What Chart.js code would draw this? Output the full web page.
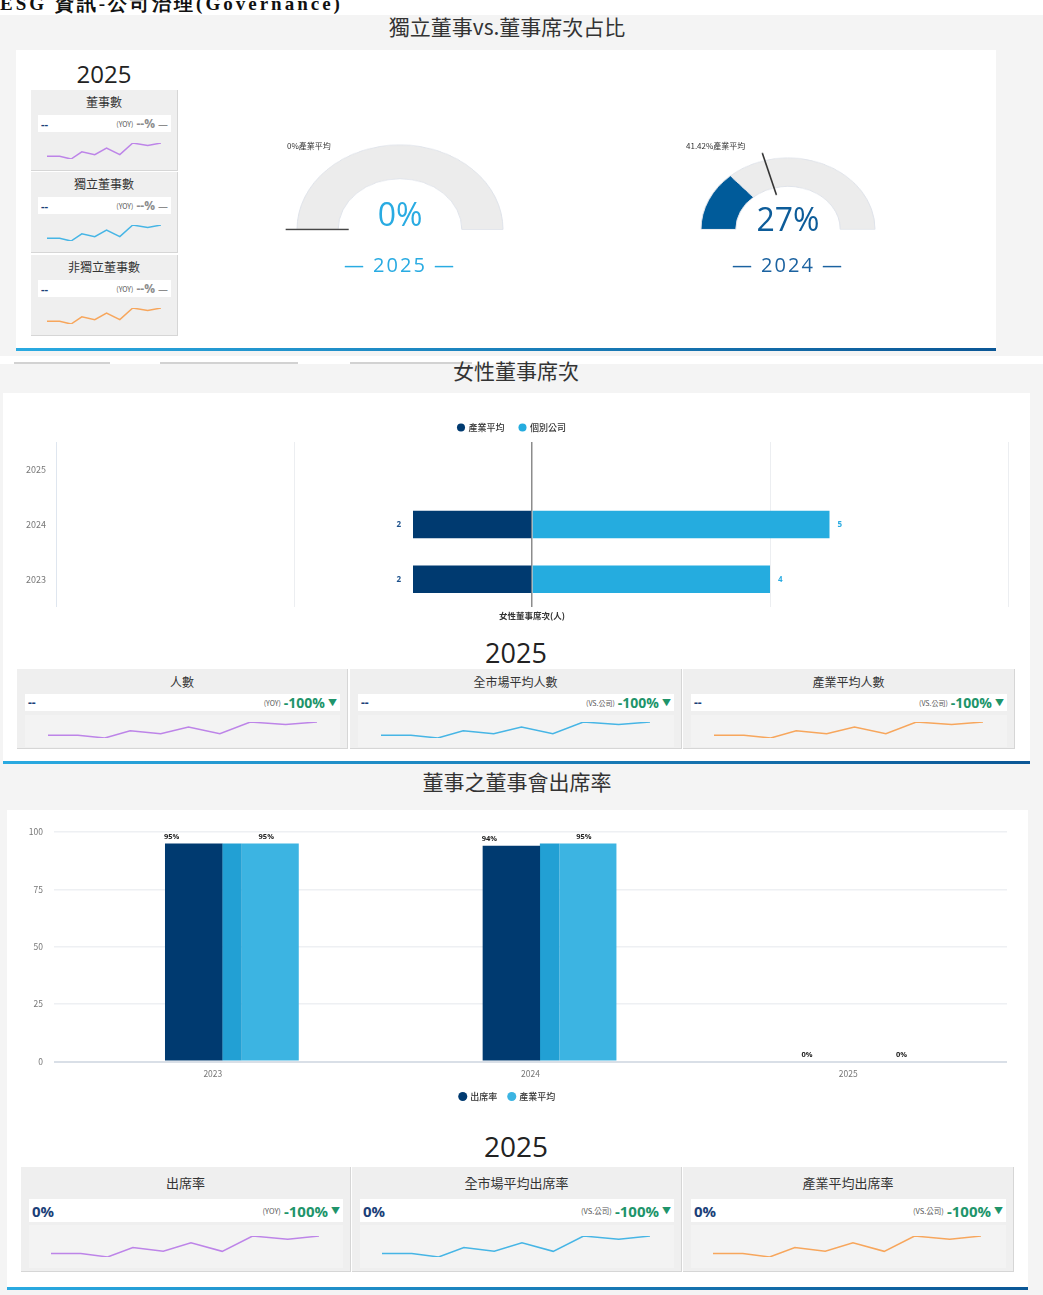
<!DOCTYPE html>
<html>
<head>
<meta charset="utf-8">
<title>ESG 資訊-公司治理</title>
<script src="https://cdn.jsdelivr.net/npm/chart.js"></script>
<style>
body{margin:0;width:1043px;height:1295px;position:relative;overflow:hidden;background:#fff;font-family:"Noto Sans CJK TC","Open Sans",sans-serif;color:#333;}
.a{position:absolute;}
.sec{position:absolute;left:0;width:1043px;background:#f4f4f4;}
.panel{position:absolute;background:#fff;}
.line{position:absolute;height:3px;background:linear-gradient(90deg,#2aaae1,#0b5796);}
.ttl{position:absolute;left:0;text-align:center;font-size:21px;line-height:24px;color:#333;}
.yr{position:absolute;width:140px;text-align:center;font-family:"Open Sans",sans-serif;color:#222;}
.card{position:absolute;background:#efefef;border-right:1px solid #d6d6d6;border-bottom:1px solid #d6d6d6;box-sizing:border-box;}
.card .t{position:absolute;left:0;right:0;text-align:center;color:#333;}
.card .s{position:absolute;background:#fff;display:flex;align-items:center;justify-content:space-between;padding:0 3px 0 3px;box-sizing:border-box;}
.card .v{font-family:"Open Sans",sans-serif;font-weight:bold;color:#1b3f78;}
.card .r{display:flex;align-items:center;gap:3px;}
.card .tag{color:#555;}
.card .ch{font-family:"Open Sans",sans-serif;font-weight:bold;}
.big{position:absolute;width:140px;text-align:center;font-family:"Open Sans",sans-serif;}
.tab{position:absolute;top:362px;height:2px;background:#d2d2d2;}
</style>
</head>
<body>
<div class="a" style="left:0;top:-6px;font:bold 19px/19px 'Liberation Serif',serif;letter-spacing:3px;color:#111;white-space:nowrap;">ESG 資訊-公司治理(Governance)</div>

<div class="sec" style="top:15px;height:341px;"></div>
<div class="ttl" style="top:14px;width:1014px;">獨立董事vs.董事席次占比</div>
<div class="panel" style="left:16px;top:50px;width:980px;height:301px;"></div>
<div class="line" style="left:16px;top:348px;width:980px;"></div>
<div class="yr" style="left:34px;top:59px;font-size:24px;line-height:30px;">2025</div>

<div class="tab" style="left:14px;width:96px;"></div>
<div class="tab" style="left:160px;width:138px;"></div>
<div class="tab" style="left:350px;width:122px;"></div>

<div class="sec" style="top:364px;height:405px;"></div>
<div class="ttl" style="top:358px;width:1032px;">女性董事席次</div>
<div class="panel" style="left:3px;top:393px;width:1027px;height:371px;"></div>
<div class="line" style="left:3px;top:761px;width:1027px;"></div>
<div class="yr" style="left:446px;top:637px;font-size:27px;line-height:32px;">2025</div>

<div class="sec" style="top:769px;height:526px;"></div>
<div class="ttl" style="top:769px;width:1034px;">董事之董事會出席率</div>
<div class="panel" style="left:7px;top:810px;width:1021px;height:480px;"></div>
<div class="line" style="left:7px;top:1287px;width:1021px;"></div>
<div class="yr" style="left:446px;top:1129px;font-size:28px;line-height:34px;">2025</div>

<script>
// gauges: independent director ratio
const gaugeYears = ['2025', '2024'];
const independentRatio = [0, 27];
const industryAvgRatio = [0, 41.42];

// female directors
const femaleYears = ['2025', '2024', '2023'];
const femaleIndustryAvg = [null, 2, 2];
const femaleCompany = [null, 5, 4];
const femaleRange = [-8, 8];

// attendance
const attendYears = ['2023', '2024', '2025'];
const attendRate = [95, 94, 0];
const attendMid = [95, 95, 0];
const attendIndustry = [95, 95, 0];
const attendTicks = [0, 25, 50, 75, 100];

// sparkline trend used in every card
const sparkX = [0, 1, 1.9, 2.75, 3.77, 4.7, 5.75, 6.77, 7.95, 9];
const sparkY = [17, 17, 0, 45, 27, 68, 27, 100, 84, 100];

const boardCards = ['董事數', '獨立董事數', '非獨立董事數'];
const femaleCards = ['人數', '全市場平均人數', '產業平均人數'];
const attendCards = ['出席率', '全市場平均出席率', '產業平均出席率'];
const cardTags = ['(YOY)', '(VS.公司)', '(VS.公司)'];
const sparkColors = ['#bd84e8', '#46b5e5', '#f7a65c'];

Chart.defaults.font.family = '"Noto Sans CJK TC","Open Sans",sans-serif';
Chart.defaults.animation = false;

const SQ = 0.82; // picture is flattened vertically

function el(tag, cls, style, parent, text) {
  const e = document.createElement(tag);
  if (cls) e.className = cls;
  if (style) e.style.cssText = style;
  if (text != null) e.textContent = text;
  (parent || document.body).appendChild(e);
  return e;
}

function canvasAt(parent, l, t, w, h) {
  const c = el('canvas', '', `position:absolute;left:${l}px;top:${t}px;width:${w}px;height:${h}px`, parent);
  c.width = w; c.height = h;
  return c;
}

function spark(parent, box, color) {
  new Chart(canvasAt(parent, box[0], box[1], box[2], box[3]), {
    type: 'line',
    data: { datasets: [{ data: sparkX.map((x, i) => ({ x, y: sparkY[i] })), borderColor: color, borderWidth: 1.5, pointRadius: 0, tension: 0 }] },
    options: {
      responsive: false, events: [], layout: { padding: 2 },
      scales: { x: { type: 'linear', display: false, min: 0, max: 9 }, y: { display: false, min: 0, max: 100 } },
      plugins: { legend: { display: false }, tooltip: { enabled: false } }
    }
  });
}

function card(x, y, w, h, g, title, value, tag, change, mark, chColor, color) {
  const d = el('div', 'card', `left:${x}px;top:${y}px;width:${w}px;height:${h}px`);
  el('div', 't', `top:${g.ty}px;font-size:${g.tf}px;line-height:${g.tf + 4}px`, d, title);
  if (g.area) el('div', 'a', `left:${g.sl}px;top:${g.area[0]}px;width:${w - 2 * g.sl}px;height:${g.area[1]}px;background:#f3f3f3`, d);
  const s = el('div', 's', `left:${g.sl}px;top:${g.st}px;width:${w - 2 * g.sl}px;height:${g.sh}px`, d);
  el('span', 'v', `font-size:${g.vf}px`, s, value);
  const r = el('span', 'r', '', s);
  el('span', 'tag', `font-size:${g.tagf}px`, r, tag);
  el('span', 'ch', `font-size:${g.cf}px;color:${chColor}`, r, change);
  el('span', '', `font-size:${g.mf}px;color:${chColor};font-weight:bold`, r, mark);
  spark(d, g.sp, color);
}

// ---- section 1 cards
const gTop = { ty: 4, tf: 12, sl: 7, st: 25, sh: 17, vf: 11, tagf: 7, cf: 12, mf: 11, sp: [14, 51, 118, 20] };
boardCards.forEach((t, i) => card(31, [90, 172, 255][i], 147, 81, gTop, t, '--', '(YOY)', '--%', '—', '#8c8c8c', sparkColors[i]));

// ---- gauges
const needle = {
  id: 'needle',
  afterDatasetsDraw(chart) {
    const a = chart.getDatasetMeta(0).data[0];
    const v = chart.options.plugins.needle.value;
    const th = Math.PI * (1 + v / 100);
    const r0 = a.innerRadius * 0.83, r1 = a.outerRadius * 1.11;
    const ctx = chart.ctx;
    ctx.save();
    ctx.strokeStyle = '#333';
    ctx.lineWidth = 1.6;
    ctx.beginPath();
    ctx.moveTo(a.x + r0 * Math.cos(th), a.y + r0 * Math.sin(th));
    ctx.lineTo(a.x + r1 * Math.cos(th), a.y + r1 * Math.sin(th));
    ctx.stroke();
    ctx.restore();
  }
};

function gauge(i, R, cx, color, textColor, yearColor, labelLeft, valueCy) {
  const p = 14, W = 2 * R + 2 * p, H = R + p + 2;
  const wrap = el('div', 'a', `left:${cx - W / 2}px;top:${230 - SQ * (p + R)}px;width:${W}px;height:${H}px;transform:scaleY(${SQ});transform-origin:0 0`);
  const v = independentRatio[i];
  new Chart(canvasAt(wrap, 0, 0, W, H), {
    type: 'doughnut',
    data: { datasets: [{ data: [v, 100 - v], backgroundColor: [color, '#ececec'], borderColor: '#dfe3ea', borderWidth: c => c.raw === 0 ? 0 : 1 }] },
    options: {
      responsive: false, events: [], rotation: -90, circumference: 180, cutout: '60%',
      layout: { padding: { left: p, right: p, top: p, bottom: 2 } },
      plugins: { legend: { display: false }, tooltip: { enabled: false }, needle: { value: industryAvgRatio[i] } }
    },
    plugins: [needle]
  });
  el('div', 'a', `left:${labelLeft}px;top:141px;font-size:8px;line-height:10px;color:#333;white-space:nowrap`, null, industryAvgRatio[i] + '%產業平均');
  el('div', 'big', `left:${cx - 70}px;top:${valueCy - 18}px;font-size:32px;line-height:36px;color:${textColor}`, null, v + '%');
  el('div', 'big', `left:${cx - 70}px;top:253px;font-size:20px;line-height:24px;letter-spacing:2px;color:${yearColor}`, null, '— ' + gaugeYears[i] + ' —');
}
gauge(0, 104, 400, '#29abe2', '#29abe2', '#29abe2', 287, 214);
gauge(1, 88, 788, '#005b9a', '#0d5c99', '#1b62a0', 686, 219);

// ---- female directors chart
const femaleLabels = {
  id: 'femaleLabels',
  afterDatasetsDraw(chart) {
    const ctx = chart.ctx;
    chart.data.datasets.forEach((ds, di) => {
      chart.getDatasetMeta(di).data.forEach((bar, i) => {
        const v = ds.data[i];
        if (v == null) return;
        ctx.save();
        ctx.font = 'bold 8px "Open Sans", sans-serif';
        ctx.textBaseline = 'middle';
        if (v < 0) { ctx.fillStyle = '#1a4f8a'; ctx.textAlign = 'right'; ctx.fillText(Math.abs(v), bar.x - 12, bar.y); }
        else { ctx.fillStyle = '#29abe2'; ctx.textAlign = 'left'; ctx.fillText(v, bar.x + 8, bar.y); }
        ctx.restore();
      });
    });
  }
};

new Chart(canvasAt(null, 16, 408, 1000, 217), {
  type: 'bar',
  data: {
    labels: femaleYears,
    datasets: [
      { label: '產業平均', data: femaleIndustryAvg.map(v => v == null ? null : -v), backgroundColor: '#003a70' },
      { label: '個別公司', data: femaleCompany, backgroundColor: '#25acdf' }
    ]
  },
  options: {
    indexAxis: 'y', responsive: false, events: [],
    layout: { padding: { right: 8 } },
    datasets: { bar: { categoryPercentage: 1, barPercentage: 0.5 } },
    scales: {
      x: {
        stacked: true, min: femaleRange[0], max: femaleRange[1],
        ticks: { display: false, stepSize: 4 },
        grid: { color: c => c.tick && c.tick.value === 0 ? '#8c8c8c' : '#eceef1', lineWidth: c => c.tick && c.tick.value === 0 ? 1.5 : 1, drawTicks: false },
        border: { display: false },
        title: { display: true, text: '女性董事席次(人)', font: { size: 8.5, weight: 'bold' }, color: '#333', padding: { top: 4, bottom: 4 } }
      },
      y: {
        stacked: true,
        grid: { display: false, drawTicks: false },
        border: { color: '#dfe6ef' },
        ticks: { font: { size: 9 }, color: '#777', padding: 10 },
        afterFit: s => { s.width = 40; }
      }
    },
    plugins: {
      legend: { labels: { usePointStyle: true, pointStyle: 'circle', boxWidth: 6, boxHeight: 5.7, font: { size: 9, weight: '500' }, color: '#333', padding: 15 } },
      tooltip: { enabled: false }
    }
  },
  plugins: [femaleLabels]
});

const g2 = { ty: 5, tf: 12, sl: 8, st: 25, sh: 17, vf: 12, tagf: 7, cf: 14, mf: 9, sp: [29, 51, 273, 20], area: [46, 32] };
femaleCards.forEach((t, i) => card([17, 350, 683][i], 669, [331, 332, 332][i], 80, g2, t, '--', cardTags[i], '-100%', '▼', '#20946a', sparkColors[i]));

// ---- attendance chart
const attendLabels = {
  id: 'attendLabels',
  afterDatasetsDraw(chart) {
    const ctx = chart.ctx;
    const offs = { 1: -22, 3: -4 };
    [1, 3].forEach(di => {
      const ds = chart.data.datasets[di];
      chart.getDatasetMeta(di).data.forEach((bar, i) => {
        ctx.save();
        ctx.font = 'bold 7.5px "Open Sans", sans-serif';
        ctx.fillStyle = '#222';
        ctx.textAlign = 'center';
        ctx.textBaseline = 'bottom';
        ctx.fillText(ds.data[i] + '%', bar.x + offs[di], bar.y - 3);
        ctx.restore();
      });
    });
  }
};

new Chart(canvasAt(null, 8, 815, 1012, 296), {
  type: 'bar',
  data: {
    labels: attendYears,
    datasets: [
      { label: '', data: attendYears.map(() => null) },
      { label: '出席率', data: attendRate, backgroundColor: '#003a70', barPercentage: 1.5 },
      { label: '', data: attendMid, backgroundColor: '#22a0d4', barPercentage: 0.51 },
      { label: '產業平均', data: attendIndustry, backgroundColor: '#3cb4e2', barPercentage: 1.49 }
    ]
  },
  options: {
    responsive: false, events: [],
    layout: { padding: { top: 17, right: 13 } },
    datasets: { bar: { categoryPercentage: 0.482 } },
    scales: {
      x: {
        grid: { display: false, drawTicks: false }, border: { display: false },
        ticks: { font: { size: 8.5 }, color: '#777', padding: 7 },
        afterFit: s => { s.height = 19; }
      },
      y: {
        min: attendTicks[0], max: attendTicks[attendTicks.length - 1],
        ticks: { stepSize: 25, font: { size: 8.5 }, color: '#777', padding: 11 },
        grid: { color: c => c.tick && c.tick.value === 0 ? '#d9dfe7' : '#eef0f3', lineWidth: c => c.tick && c.tick.value === 0 ? 2 : 1.5, drawTicks: false },
        border: { display: false },
        afterFit: s => { s.width = 46; }
      }
    },
    plugins: {
      legend: { position: 'bottom', labels: { filter: it => it.text !== '', usePointStyle: true, pointStyle: 'circle', boxWidth: 6, boxHeight: 6.4, font: { size: 9, weight: '500' }, color: '#333', padding: 11.5 } },
      tooltip: { enabled: false }
    }
  },
  plugins: [attendLabels]
});

const g3 = { ty: 7, tf: 13, sl: 8, st: 32, sh: 23, vf: 15, tagf: 7.5, cf: 15, mf: 9, sp: [28, 67, 272, 25], area: [58, 43] };
attendCards.forEach((t, i) => card([21, 352, 683][i], 1167, [330, 330, 331][i], 105, g3, t, '0%', cardTags[i], '-100%', '▼', '#20946a', sparkColors[i]));
</script>
</body>
</html>
